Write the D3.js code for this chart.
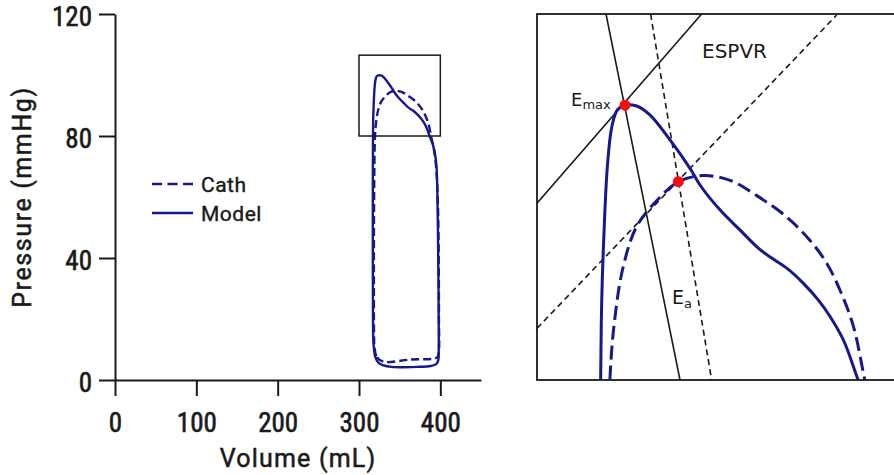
<!DOCTYPE html>
<html>
<head>
<meta charset="utf-8">
<script src="https://cdn.jsdelivr.net/npm/d3@7"></script>
<style>
  body { margin: 0; background: #fff; }
  svg { display: block; }
</style>
</head>
<body>
<div id="chart"></div>
<script>
// Model (solid) PV loop, counter-clockwise from end of relaxation
const modelVolume = [318.5, 320, 324, 330, 340, 355, 372, 388, 395, 397.5, 398, 398, 397.6, 397, 396.3, 395.3, 393.5, 391,
    386.8, 382.8, 379.2, 376.0, 372.0, 367.5, 363.0, 359.8, 354.9, 349.5, 344.1, 341.4, 335.9, 330.5, 326.9, 323.8,
    321.7, 320.2, 319.0, 318.1, 317.5, 317.2, 317.0, 317.0, 317.2, 317.6];
const modelPressure = [10, 7.6, 5.6, 4.8, 4.3, 4.2, 4.3, 4.6, 5.2, 6.5, 10, 20, 35, 50, 62, 70, 74, 77,
    80, 82.9, 84.6, 85.8, 87.0, 88.1, 88.9, 89.55, 90.85, 92.3, 94.1, 95.3, 97.4, 99.2, 99.84, 99.9,
    99.55, 98.3, 95.4, 90.6, 85.8, 80, 60, 40, 20, 13];

// Cath (dashed) PV loop
const cathVolume = [319, 322, 330, 363, 396, 398, 398.3, 398, 397.3, 396, 394, 391.5, 388.6, 385.5, 381.9, 378.3,
    373.8, 367.5, 359.4, 352.2, 344.9, 338.2, 332.4, 326.9, 323.3, 321.1, 319.7, 318.6, 318.3, 318.5];
const cathPressure = [11, 7.5, 6.0, 6.7, 7.4, 9, 20, 40, 55, 65, 72, 76.5, 80, 83.9, 86.5, 88.45,
    90.1, 91.8, 93.35, 94.45, 94.8, 94.36, 93.0, 91.1, 88.2, 84.6, 80, 60, 30, 15];

// zoom window (volume / pressure)
const zoomVolume = [300, 400];
const zoomPressure = [80, 106.5];

// lines in the zoomed panel, endpoints in mL / mmHg
const espvrModelV = [300, 344.5], espvrModelP = [92.8, 106.5];
const espvrCathV = [300, 381], espvrCathP = [83.74, 106.43];
const eaModelV = [318.65, 338.65], eaModelP = [106.5, 80];
const eaCathV = [330.7, 347.2], eaCathP = [106.5, 80];

// end-systolic points
const esVolume = [323.8, 338.2];
const esPressure = [99.9, 94.36];

const xTicks = [0, 100, 200, 300, 400];
const yTicks = [0, 40, 80, 120];
const legendLabels = ["Cath", "Model"];

const navy = "#16188c";
const ink = "#1a1a1a";

const svg = d3.select("#chart").append("svg")
    .attr("width", 894).attr("height", 475);

const x = d3.scaleLinear().domain([0, 450]).range([115, 481]);
const y = d3.scaleLinear().domain([0, 120]).range([380, 14]);

const tickFont = '"Liberation Sans Narrow", "Roboto Condensed", Roboto, sans-serif';
const titleFont = 'Roboto, "Liberation Sans", sans-serif';

// axes
const xAxis = svg.append("g")
    .attr("transform", `translate(0,${y(0)})`)
    .call(d3.axisBottom(x).tickValues(xTicks).tickSize(16).tickSizeOuter(0).tickPadding(17));
const yAxis = svg.append("g")
    .attr("transform", `translate(${x(0)},0)`)
    .call(d3.axisLeft(y).tickValues(yTicks).tickSize(16).tickSizeOuter(0).tickPadding(7));

[xAxis, yAxis].forEach(a => {
    a.selectAll("path, line").attr("stroke", ink).attr("stroke-width", 2);
    a.selectAll("text")
        .style("font-family", tickFont)
        .style("font-size", "27px")
        .attr("fill", ink)
        .attr("stroke", ink).attr("stroke-width", 0.6);
});
yAxis.selectAll("text").attr("dy", "0.42em");

svg.append("text")
    .attr("x", 298).attr("y", 467)
    .attr("text-anchor", "middle")
    .style("font-family", titleFont).style("font-size", "25px")
    .style("letter-spacing", "1.2px")
    .attr("fill", ink).attr("stroke", ink).attr("stroke-width", 0.5)
    .text("Volume (mL)");

svg.append("text")
    .attr("transform", "translate(31,197) rotate(-90)")
    .attr("text-anchor", "middle")
    .style("font-family", titleFont).style("font-size", "25px")
    .style("letter-spacing", "1.6px")
    .attr("fill", ink).attr("stroke", ink).attr("stroke-width", 0.5)
    .text("Pressure (mmHg)");

// loops
const lineFor = (sx, sy) => d3.line()
    .x(d => sx(d[0])).y(d => sy(d[1]))
    .curve(d3.curveCatmullRomClosed.alpha(0.5));

const modelPts = modelVolume.map((v, i) => [v, modelPressure[i]]);
const cathPts = cathVolume.map((v, i) => [v, cathPressure[i]]);

svg.append("path")
    .attr("d", lineFor(x, y)(cathPts))
    .attr("fill", "none").attr("stroke", navy).attr("stroke-width", 2.4)
    .attr("stroke-dasharray", "8,4");
svg.append("path")
    .attr("d", lineFor(x, y)(modelPts))
    .attr("fill", "none").attr("stroke", navy).attr("stroke-width", 2.4);

// zoom box on the left plot
svg.append("rect")
    .attr("x", x(zoomVolume[0])).attr("y", y(zoomPressure[1]))
    .attr("width", x(zoomVolume[1]) - x(zoomVolume[0]))
    .attr("height", y(zoomPressure[0]) - y(zoomPressure[1]))
    .attr("fill", "none").attr("stroke", ink).attr("stroke-width", 1.5);

// legend
const legend = svg.append("g").attr("transform", "translate(152,184)");
legendLabels.forEach((lab, i) => {
    const g = legend.append("g").attr("transform", `translate(0,${i * 29})`);
    g.append("line")
        .attr("x1", 0).attr("x2", 41)
        .attr("stroke", navy).attr("stroke-width", 2.6)
        .attr("stroke-dasharray", lab === "Cath" ? "10,5.5" : null);
    g.append("text")
        .attr("x", 49).attr("y", 8)
        .style("font-family", titleFont).style("font-size", "21px")
        .style("letter-spacing", "0.5px")
        .attr("fill", ink).attr("stroke", ink).attr("stroke-width", 0.4)
        .text(lab);
});

// zoomed panel
const xz = d3.scaleLinear().domain(zoomVolume).range([537, 907]);
const yz = d3.scaleLinear().domain(zoomPressure).range([380, 14]);

svg.append("clipPath").attr("id", "zclip")
    .append("rect")
    .attr("x", xz(zoomVolume[0])).attr("y", yz(zoomPressure[1]))
    .attr("width", xz(zoomVolume[1]) - xz(zoomVolume[0]))
    .attr("height", yz(zoomPressure[0]) - yz(zoomPressure[1]));

const zp = svg.append("g").attr("clip-path", "url(#zclip)");

const seg = (vs, ps) => d3.line().x(d => xz(d[0])).y(d => yz(d[1]))(vs.map((v, i) => [v, ps[i]]));

zp.append("path").attr("d", seg(espvrModelV, espvrModelP))
    .attr("stroke", ink).attr("stroke-width", 1.6).attr("fill", "none");
zp.append("path").attr("d", seg(eaModelV, eaModelP))
    .attr("stroke", ink).attr("stroke-width", 1.6).attr("fill", "none");
zp.append("path").attr("d", seg(espvrCathV, espvrCathP))
    .attr("stroke", ink).attr("stroke-width", 1.6).attr("fill", "none").attr("stroke-dasharray", "6,4");
zp.append("path").attr("d", seg(eaCathV, eaCathP))
    .attr("stroke", ink).attr("stroke-width", 1.6).attr("fill", "none").attr("stroke-dasharray", "6,4");

zp.append("path")
    .attr("d", lineFor(xz, yz)(cathPts))
    .attr("fill", "none").attr("stroke", navy).attr("stroke-width", 3)
    .attr("stroke-dasharray", "14,6");
zp.append("path")
    .attr("d", lineFor(xz, yz)(modelPts))
    .attr("fill", "none").attr("stroke", navy).attr("stroke-width", 3);

zp.selectAll("circle.es")
    .data(esVolume.map((v, i) => [v, esPressure[i]]))
    .join("circle")
    .attr("class", "es")
    .attr("cx", d => xz(d[0])).attr("cy", d => yz(d[1]))
    .attr("r", 5.5).attr("fill", "#ff0a0a");

svg.append("rect")
    .attr("x", xz(zoomVolume[0])).attr("y", yz(zoomPressure[1]))
    .attr("width", xz(zoomVolume[1]) - xz(zoomVolume[0]))
    .attr("height", yz(zoomPressure[0]) - yz(zoomPressure[1]))
    .attr("fill", "none").attr("stroke", ink).attr("stroke-width", 1.8);

const labelFont = '"DejaVu Sans", Verdana, sans-serif';
svg.append("text")
    .attr("x", 702).attr("y", 58)
    .style("font-family", labelFont).style("font-size", "20px")
    .attr("fill", ink).text("ESPVR");

const emax = svg.append("text")
    .attr("x", 571).attr("y", 106)
    .style("font-family", labelFont).style("font-size", "18px")
    .attr("fill", ink);
emax.append("tspan").text("E");
emax.append("tspan").attr("dy", 3).style("font-size", "13px").text("max");

const ea = svg.append("text")
    .attr("x", 672).attr("y", 304)
    .style("font-family", labelFont).style("font-size", "19px")
    .attr("fill", ink);
ea.append("tspan").text("E");
ea.append("tspan").attr("dy", 4).style("font-size", "13px").text("a");
</script>
</body>
</html>
